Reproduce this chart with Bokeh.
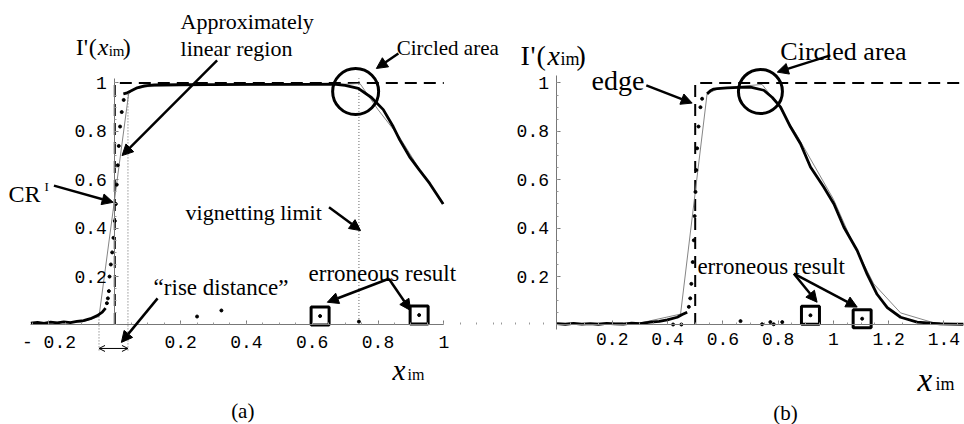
from bokeh.plotting import figure
from bokeh.layouts import row
from bokeh.models import Arrow, NormalHead, OpenHead, Label, FixedTicker, CustomJSTickFormatter
from bokeh.embed import file_html
from bokeh.resources import INLINE

# ---------------- panel (a) data ----------------
a_base_x = [-0.255, -0.235, -0.215, -0.195, -0.175, -0.155, -0.135, -0.115, -0.095, -0.074, -0.053, -0.038, -0.028]
a_base_y = [0.008, 0.011, 0.007, 0.012, 0.009, 0.013, 0.010, 0.015, 0.018, 0.026, 0.039, 0.053, 0.070]
a_rise_x = [-0.024, -0.021, -0.018, -0.016, -0.012, -0.008, -0.004, 0.000, 0.003, 0.006, 0.009, 0.012, 0.016, 0.021, 0.027]
a_rise_y = [0.09, 0.11, 0.14, 0.20, 0.25, 0.30, 0.36, 0.43, 0.50, 0.58, 0.66, 0.74, 0.82, 0.88, 0.93]
a_top_x = [0.026, 0.035, 0.050, 0.068, 0.090, 0.120, 0.200, 0.300, 0.400, 0.500, 0.600, 0.665, 0.700, 0.740,
           0.780, 0.816, 0.846, 0.866, 0.896, 0.926, 0.957, 0.998]
a_top_y = [0.955, 0.958, 0.968, 0.980, 0.988, 0.992, 0.993, 0.993, 0.994, 0.994, 0.994, 0.995, 0.990, 0.978,
           0.940, 0.890, 0.820, 0.765, 0.695, 0.640, 0.585, 0.500]
a_model_x = [-0.255, -0.100, -0.048, 0.042, 0.060, 0.100, 0.300, 0.500, 0.700, 0.745, 0.800, 0.866, 0.930, 1.000]
a_model_y = [0.010, 0.012, 0.035, 0.955, 0.975, 0.985, 0.990, 0.992, 0.995, 0.998, 0.890, 0.775, 0.635, 0.500]
a_ideal_x = [0.0, 0.0, 1.0]
a_ideal_y = [0.0, 1.0, 1.0]
a_stray_x = [0.250, 0.324, 0.742]
a_stray_y = [0.035, 0.060, 0.014]
a_err_x = [0.624, 0.925]
a_err_y = [0.037, 0.041]
a_guide_x = [-0.048, 0.040, 0.742]
a_guide_y0 = [-0.105, -0.105, 0.0]
a_guide_y1 = [0.040, 0.957, 1.02]
a_circle_x = [0.732]
a_circle_y = [0.965]
a_xticks = [-0.2, 0.2, 0.4, 0.6, 0.8, 1.0]

# ---------------- panel (b) data ----------------
b_base_x = [0.0, 0.03, 0.06, 0.09, 0.12, 0.15, 0.18, 0.21, 0.24, 0.27, 0.30, 0.338, 0.37, 0.399, 0.435, 0.453, 0.471]
b_base_y = [0.006, 0.003, 0.007, 0.004, 0.006, 0.003, 0.007, 0.005, 0.004, 0.008, 0.006, 0.012, 0.015, 0.021, 0.032, 0.043, 0.053]
b_rise_x = [0.477, 0.482, 0.486, 0.491, 0.495, 0.498, 0.501, 0.504, 0.507, 0.512, 0.519, 0.525]
b_rise_y = [0.075, 0.110, 0.170, 0.260, 0.350, 0.450, 0.550, 0.640, 0.730, 0.820, 0.900, 0.935]
b_top_x = [0.543, 0.555, 0.567, 0.580, 0.616, 0.660, 0.700, 0.748, 0.779, 0.809, 0.845, 0.881, 0.917, 0.965,
           1.002, 1.038, 1.086, 1.122, 1.158, 1.195, 1.243, 1.303, 1.387, 1.470]
b_top_y = [0.955, 0.968, 0.975, 0.977, 0.980, 0.982, 0.983, 0.970, 0.940, 0.900, 0.818, 0.749, 0.653, 0.570,
           0.500, 0.404, 0.308, 0.210, 0.127, 0.072, 0.032, 0.012, 0.005, 0.003]
b_model_x = [0.0, 0.300, 0.447, 0.543, 0.580, 0.650, 0.742, 0.797, 0.870, 0.950, 1.000, 1.062, 1.146, 1.243, 1.360, 1.470]
b_model_y = [0.005, 0.008, 0.045, 0.955, 0.975, 0.985, 0.994, 0.914, 0.780, 0.620, 0.520, 0.360, 0.170, 0.050, 0.010, 0.005]
b_ideal_x = [0.5, 0.5, 1.47]
b_ideal_y = [0.0, 1.0, 1.0]
b_stray_x = [0.420, 0.450, 0.664, 0.742, 0.772, 0.784, 0.815]
b_stray_y = [0.002, 0.002, 0.016, 0.003, 0.012, 0.003, 0.012]
b_err_x = [0.917, 1.104]
b_err_y = [0.040, 0.026]
b_circle_x = [0.736]
b_circle_y = [0.965]
b_xticks = [0.2, 0.4, 0.6, 0.8, 1.0, 1.2, 1.4]

y_ticks = [0.2, 0.4, 0.6, 0.8, 1.0]

SERIF = "Liberation Serif"
MONO = "Liberation Mono"
fmt = CustomJSTickFormatter(code="return tick < 0 ? '- ' + (-tick).toString() : tick.toString();")
Y_RANGE = (-0.4112, 1.3409)


def make_fig(w, xr, x_bounds, y_bounds, xticks):
    p = figure(width=w, height=424, x_range=xr, y_range=Y_RANGE,
               output_backend="svg", toolbar_location=None, min_border=0)
    p.outline_line_color = None
    p.grid.visible = False
    p.background_fill_color = "white"
    p.border_fill_color = "white"
    minor_x = [round(-0.25 + 0.05 * i, 2) for i in range(0, 36)]
    minor_y = [round(0.05 * i, 2) for i in range(0, 21)]
    p.xaxis.ticker = FixedTicker(ticks=xticks, minor_ticks=minor_x)
    p.yaxis.ticker = FixedTicker(ticks=y_ticks, minor_ticks=minor_y)
    for ax in (p.xaxis[0], p.yaxis[0]):
        ax.fixed_location = 0
        ax.formatter = fmt
        ax.axis_line_color = "#777777"
        ax.axis_line_width = 1
        ax.major_tick_line_color = "#777777"
        ax.minor_tick_line_color = "#999999"
        ax.major_tick_in = 4
        ax.major_tick_out = 0
        ax.minor_tick_in = 2
        ax.minor_tick_out = 0
        ax.major_label_text_font = MONO
        ax.major_label_text_font_size = "18px"
        ax.major_label_text_color = "black"
        ax.major_label_standoff = 8
    p.xaxis.bounds = x_bounds
    p.yaxis.bounds = y_bounds
    return p


def add_text(p, x, y, text, size, style="normal", align="left", dx=0, dy=0):
    p.add_layout(Label(x=x, y=y, text=text, x_offset=dx, y_offset=dy,
                       text_font=SERIF, text_font_size=size, text_font_style=style,
                       text_align=align, text_baseline="alphabetic", text_color="black"))


def add_arrow(p, xs, ys, xe, ye):
    p.add_layout(Arrow(end=NormalHead(size=11, fill_color="black", line_color="black", line_width=1),
                       x_start=xs, y_start=ys, x_end=xe, y_end=ye,
                       line_width=2.5, line_color="black"))


def ylabel(p, x, y, size, sub, offs):
    add_text(p, x, y, "I", size, dx=offs[0])
    add_text(p, x, y, "'", size, dx=offs[1])
    add_text(p, x, y, "(", size, dx=offs[2])
    add_text(p, x, y, "x", size, style="italic", dx=offs[3])
    add_text(p, x, y, "im", sub, dx=offs[4], dy=-4)
    add_text(p, x, y, ")", size, dx=offs[5])


# ================= panel (a) =================
p1 = make_fig(500, (-0.3474, 1.1723), (-0.255, 1.0), (0.0, 1.02), a_xticks)
p1.line(a_ideal_x, a_ideal_y, line_color="black", line_width=2, line_dash="12 7")
p1.segment(x0=a_guide_x, y0=a_guide_y0, x1=a_guide_x, y1=a_guide_y1,
           line_color="#666666", line_width=1, line_dash="1 2")
p1.line(a_model_x, a_model_y, line_color="#777777", line_width=0.9)
p1.line(a_base_x, a_base_y, line_color="black", line_width=2.8)
p1.line(a_top_x, a_top_y, line_color="black", line_width=2.8)
p1.scatter(a_rise_x, a_rise_y, size=3, color="black")
p1.scatter(a_stray_x, a_stray_y, size=3, color="black")
p1.scatter(a_err_x, a_err_y, size=3, color="black")
p1.scatter(a_err_x, a_err_y, marker="square", size=18, fill_color=None, line_color="black", line_width=3)
p1.scatter(a_circle_x, a_circle_y, marker="circle", size=46, fill_color=None, line_color="black", line_width=3)

ylabel(p1, -0.119, 1.147, "24px", "15px", [0, 8, 13, 22, 33, 47])
add_text(p1, 0.200, 1.254, "Approximately", "22px")
add_text(p1, 0.200, 1.143, "linear region", "22px")
add_text(p1, 0.857, 1.143, "Circled area", "21px")
add_text(p1, -0.3231, 0.543, "CR", "24px")
add_text(p1, -0.3231, 0.543, "I", "13px", dx=36, dy=7)
add_text(p1, 0.215, 0.465, "vignetting limit", "22px")
add_text(p1, 0.118, 0.155, "\u201crise distance\u201d", "23px")
add_text(p1, 0.589, 0.213, "erroneous result", "23px")
add_text(p1, 0.844, -0.188, "x", "29px", style="italic")
add_text(p1, 0.844, -0.188, "im", "16px", dx=15, dy=-4)
add_text(p1, 0.389, -0.357, "(a)", "21px", align="center")

add_arrow(p1, 0.311, 1.093, 0.022, 0.700)
add_arrow(p1, -0.185, 0.576, -0.005, 0.507)
add_arrow(p1, 0.862, 1.122, 0.795, 1.060)
add_arrow(p1, 0.651, 0.487, 0.747, 0.390)
add_arrow(p1, 0.833, 0.191, 0.646, 0.094)
add_arrow(p1, 0.833, 0.191, 0.899, 0.060)
add_arrow(p1, 0.130, 0.110, 0.020, -0.072)
p1.add_layout(Arrow(start=OpenHead(size=6, line_width=1), end=OpenHead(size=6, line_width=1),
                    x_start=-0.048, y_start=-0.097, x_end=0.040, y_end=-0.097,
                    line_width=1, line_color="black"))

# ================= panel (b) =================
p2 = make_fig(464, (-0.2044, 1.4743), (0.0, 1.47), (-0.02, 1.03), b_xticks)
p2.line(b_ideal_x, b_ideal_y, line_color="black", line_width=2, line_dash="12 7")
p2.line(b_model_x, b_model_y, line_color="#777777", line_width=0.9)
p2.line(b_base_x, b_base_y, line_color="black", line_width=2.8)
p2.line(b_top_x, b_top_y, line_color="black", line_width=2.8)
p2.scatter(b_rise_x, b_rise_y, size=3, color="black")
p2.scatter(b_stray_x, b_stray_y, size=3, color="black")
p2.scatter(b_err_x, b_err_y, size=3, color="black")
p2.scatter(b_err_x, b_err_y, marker="square", size=18, fill_color=None, line_color="black", line_width=3)
p2.scatter(b_circle_x, b_circle_y, marker="circle", size=44, fill_color=None, line_color="black", line_width=3)

ylabel(p2, -0.132, 1.114, "28px", "18px", [0, 10, 16, 27, 40, 56])
add_text(p2, 0.125, 1.010, "edge", "28px")
add_text(p2, 0.808, 1.130, "Circled area", "26px")
add_text(p2, 0.508, 0.243, "erroneous result", "23px")
add_text(p2, 1.304, -0.229, "x", "33px", style="italic")
add_text(p2, 1.304, -0.229, "im", "18px", dx=18, dy=-4)
add_text(p2, 0.827, -0.362, "(b)", "21px", align="center")

add_arrow(p2, 0.323, 0.990, 0.489, 0.917)
add_arrow(p2, 0.989, 1.114, 0.797, 1.045)
add_arrow(p2, 0.857, 0.212, 0.941, 0.094)
add_arrow(p2, 0.857, 0.212, 1.086, 0.074)

layout = row(p1, p2)
open("out.html", "w").write(file_html(layout, INLINE))
